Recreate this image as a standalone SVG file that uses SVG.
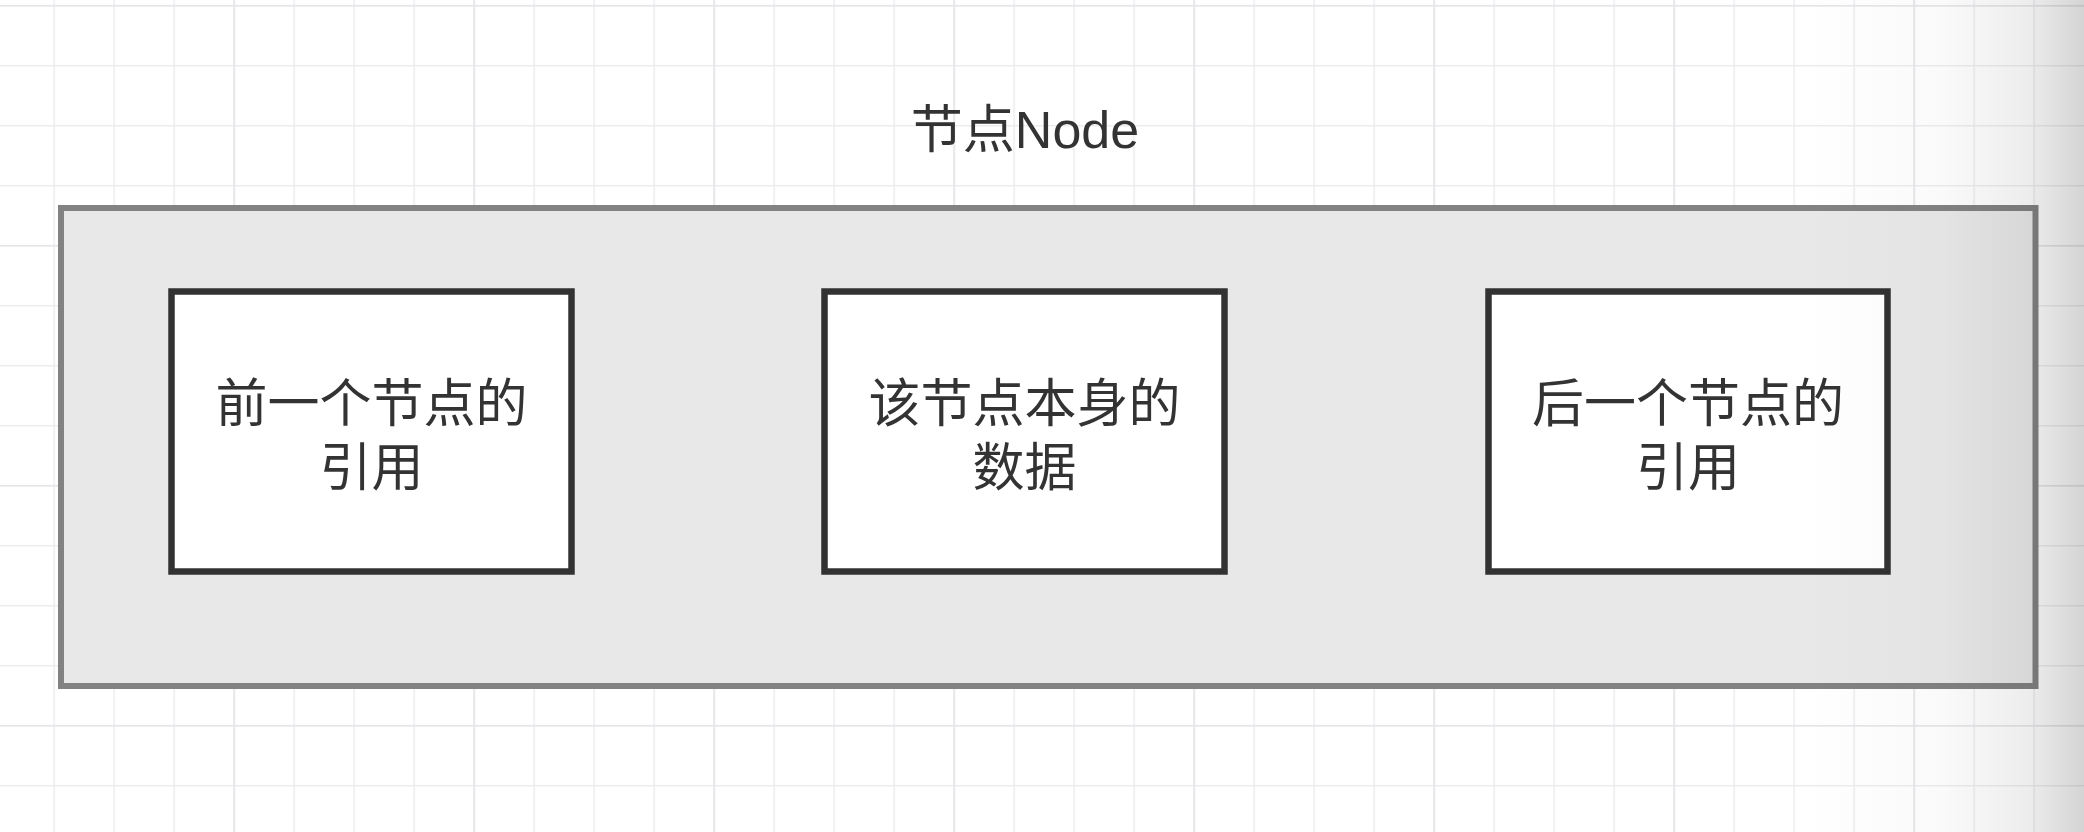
<svg xmlns="http://www.w3.org/2000/svg" width="2084" height="832" viewBox="0 0 2084 832">
  <defs>
    <pattern id="minor" patternUnits="userSpaceOnUse" x="53.3" y="5" width="60" height="60">
      <path d="M0 0V60M0 0H60" fill="none" stroke="#ededf0" stroke-width="3"/>
    </pattern>
    <pattern id="major" patternUnits="userSpaceOnUse" x="233.3" y="5" width="240" height="240">
      <path d="M0 0V240M0 0H240" fill="none" stroke="#e6e6ea" stroke-width="3"/>
    </pattern>
    <linearGradient id="shade" x1="1800" y1="0" x2="2084" y2="0" gradientUnits="userSpaceOnUse">
      <stop offset="0" stop-color="#000" stop-opacity="0"/>
      <stop offset="0.5" stop-color="#000" stop-opacity="0.02"/>
      <stop offset="0.8" stop-color="#000" stop-opacity="0.07"/>
      <stop offset="1" stop-color="#000" stop-opacity="0.17"/>
    </linearGradient>
    <filter id="blur" x="-5%" y="-5%" width="110%" height="110%">
      <feGaussianBlur stdDeviation="0.6"/>
    </filter>
  </defs>
  <style>
    .container { fill: #e8e8e8; stroke: #828282; stroke-width: 6; }
    .box { fill: #ffffff; stroke: #333333; stroke-width: 6.5; }
    .label { font-family: "Liberation Sans", "Noto Sans CJK SC", sans-serif; font-size: 52px; fill: #333333; text-anchor: middle; }
  </style>
  <rect x="0" y="0" width="2084" height="832" fill="#ffffff"/>
  <rect x="0" y="0" width="2084" height="832" fill="url(#minor)"/>
  <rect x="0" y="0" width="2084" height="832" fill="url(#major)"/>

  <g id="title">
    <text class="label" x="1025" y="148">节点Node</text>
  </g>

  <g id="node-container">
    <rect class="container" x="61" y="208" width="1974.5" height="478" filter="url(#blur)"/>
  </g>

  <g id="node-prev">
    <rect class="box" x="171.5" y="291.5" width="400" height="280" filter="url(#blur)"/>
    <text class="label" x="371.5" y="422">前一个节点的</text>
    <text class="label" x="371.5" y="486">引用</text>
  </g>

  <g id="node-data">
    <rect class="box" x="824.5" y="291.5" width="400" height="280" filter="url(#blur)"/>
    <text class="label" x="1024.5" y="422">该节点本身的</text>
    <text class="label" x="1024.5" y="486">数据</text>
  </g>

  <g id="node-next">
    <rect class="box" x="1488.5" y="291.5" width="399" height="280" filter="url(#blur)"/>
    <text class="label" x="1688" y="422">后一个节点的</text>
    <text class="label" x="1688" y="486">引用</text>
  </g>

  <g id="connectors"></g>

  <rect x="1800" y="0" width="284" height="832" fill="url(#shade)"/>
</svg>
